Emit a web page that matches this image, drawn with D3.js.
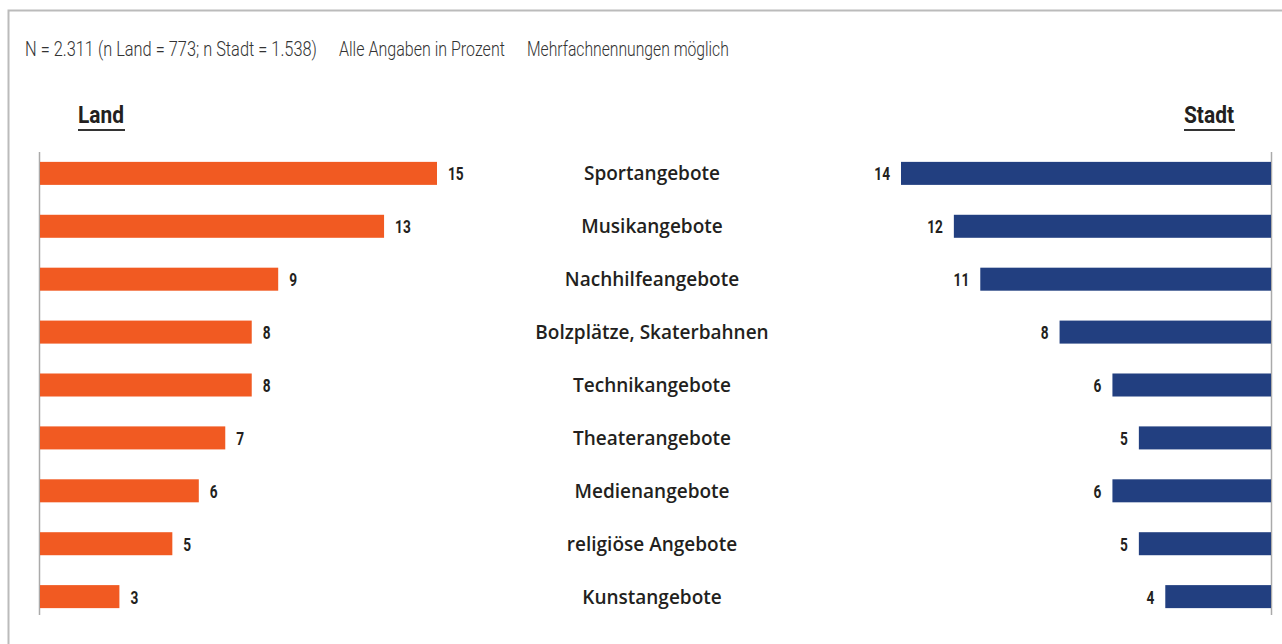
<!DOCTYPE html>
<html>
<head>
<meta charset="utf-8">
<script src="https://cdn.jsdelivr.net/npm/d3@7"></script>
<style>
  body { margin: 0; background: #fff; }
  svg { display: block; }
  .note { font-family: Roboto, "Open Sans", sans-serif; font-size: 21px; font-weight: 300; fill: #333; }
  .title { font-family: Roboto, "Open Sans", sans-serif; font-size: 24px; font-weight: bold; fill: #231f20; }
  .val { font-family: Roboto, "Open Sans", sans-serif; font-size: 19px; font-weight: bold; fill: #231f20; }
  .cat { font-family: "Open Sans", "Noto Sans", sans-serif; font-size: 19px; font-weight: 600; fill: #231f20; }
</style>
</head>
<body>
<svg width="1282" height="644"></svg>
<script>
var categories = ["Sportangebote", "Musikangebote", "Nachhilfeangebote", "Bolzplätze, Skaterbahnen",
  "Technikangebote", "Theaterangebote", "Medienangebote", "religiöse Angebote", "Kunstangebote"];
var land = [15, 13, 9, 8, 8, 7, 6, 5, 3];
var stadt = [14, 12, 11, 8, 6, 5, 6, 5, 4];
var notes = ["N = 2.311 (n Land = 773; n Stadt = 1.538)", "Alle Angaben in Prozent", "Mehrfachnennungen möglich"];
var noteX = [25, 339, 527];
var noteW = [292, 166, 202];

var svg = d3.select("svg");
var narrow = 0.72;

// squeeze a text horizontally to a given width (condensed look)
function fitText(sel, x, yy, w) {
  var nat = sel.node().getComputedTextLength();
  sel.attr("transform", "translate(" + x + "," + yy + ") scale(" + (w / nat) + ",1)");
}

// frame
svg.append("path")
  .attr("d", "M8.5,644 V10.5 H1282")
  .attr("fill", "none")
  .attr("stroke", "#bbb")
  .attr("stroke-width", 2);

notes.forEach(function (d, i) {
  var t = svg.append("text").attr("class", "note").text(d);
  fitText(t, noteX[i], 56, noteW[i]);
});

var y = d3.scaleBand()
  .domain(categories)
  .range([146, 624])
  .paddingInner(0.565)
  .paddingOuter(0.3);

var xLand = d3.scaleLinear().domain([0, 15]).range([40, 437]);
var xStadt = d3.scaleLinear().domain([0, 14]).range([1271, 901]);

// titles
var titles = [{ t: "Land", x: 78, w: 46 }, { t: "Stadt", x: 1184, w: 50 }];
titles.forEach(function (d) {
  var t = svg.append("text").attr("class", "title").text(d.t);
  fitText(t, d.x, 123, d.w);
  svg.append("line")
    .attr("x1", d.x).attr("x2", d.x + d.w + 1)
    .attr("y1", 130).attr("y2", 130)
    .attr("stroke", "#333").attr("stroke-width", 2);
});

// axis lines
svg.append("line").attr("x1", 39.5).attr("x2", 39.5).attr("y1", 152).attr("y2", 615)
  .attr("stroke", "#aaa").attr("stroke-width", 1.5);
svg.append("line").attr("x1", 1271.5).attr("x2", 1271.5).attr("y1", 152).attr("y2", 615)
  .attr("stroke", "#aaa").attr("stroke-width", 1.5);

function midY(i) { return y(categories[i]) + y.bandwidth() / 2 + 7; }

// Land bars
svg.append("g").selectAll("rect")
  .data(land)
  .enter().append("rect")
  .attr("x", xLand(0))
  .attr("y", function (d, i) { return y(categories[i]); })
  .attr("width", function (d) { return xLand(d) - xLand(0); })
  .attr("height", y.bandwidth())
  .attr("fill", "#f15a22");

svg.append("g").selectAll("text")
  .data(land)
  .enter().append("text")
  .attr("class", "val")
  .attr("transform", function (d, i) { return "translate(" + (xLand(d) + 11) + "," + midY(i) + ") scale(" + narrow + ",1)"; })
  .text(function (d) { return d; });

// Stadt bars
svg.append("g").selectAll("rect")
  .data(stadt)
  .enter().append("rect")
  .attr("x", function (d) { return xStadt(d); })
  .attr("y", function (d, i) { return y(categories[i]); })
  .attr("width", function (d) { return xStadt(0) - xStadt(d); })
  .attr("height", y.bandwidth())
  .attr("fill", "#223f80");

svg.append("g").selectAll("text")
  .data(stadt)
  .enter().append("text")
  .attr("class", "val")
  .attr("text-anchor", "end")
  .attr("transform", function (d, i) { return "translate(" + (xStadt(d) - 11) + "," + midY(i) + ") scale(" + narrow + ",1)"; })
  .text(function (d) { return d; });

// category labels
svg.append("g").selectAll("text")
  .data(categories)
  .enter().append("text")
  .attr("class", "cat")
  .attr("text-anchor", "middle")
  .attr("x", 652)
  .attr("y", function (d, i) { return midY(i); })
  .text(function (d) { return d; });
</script>
</body>
</html>
